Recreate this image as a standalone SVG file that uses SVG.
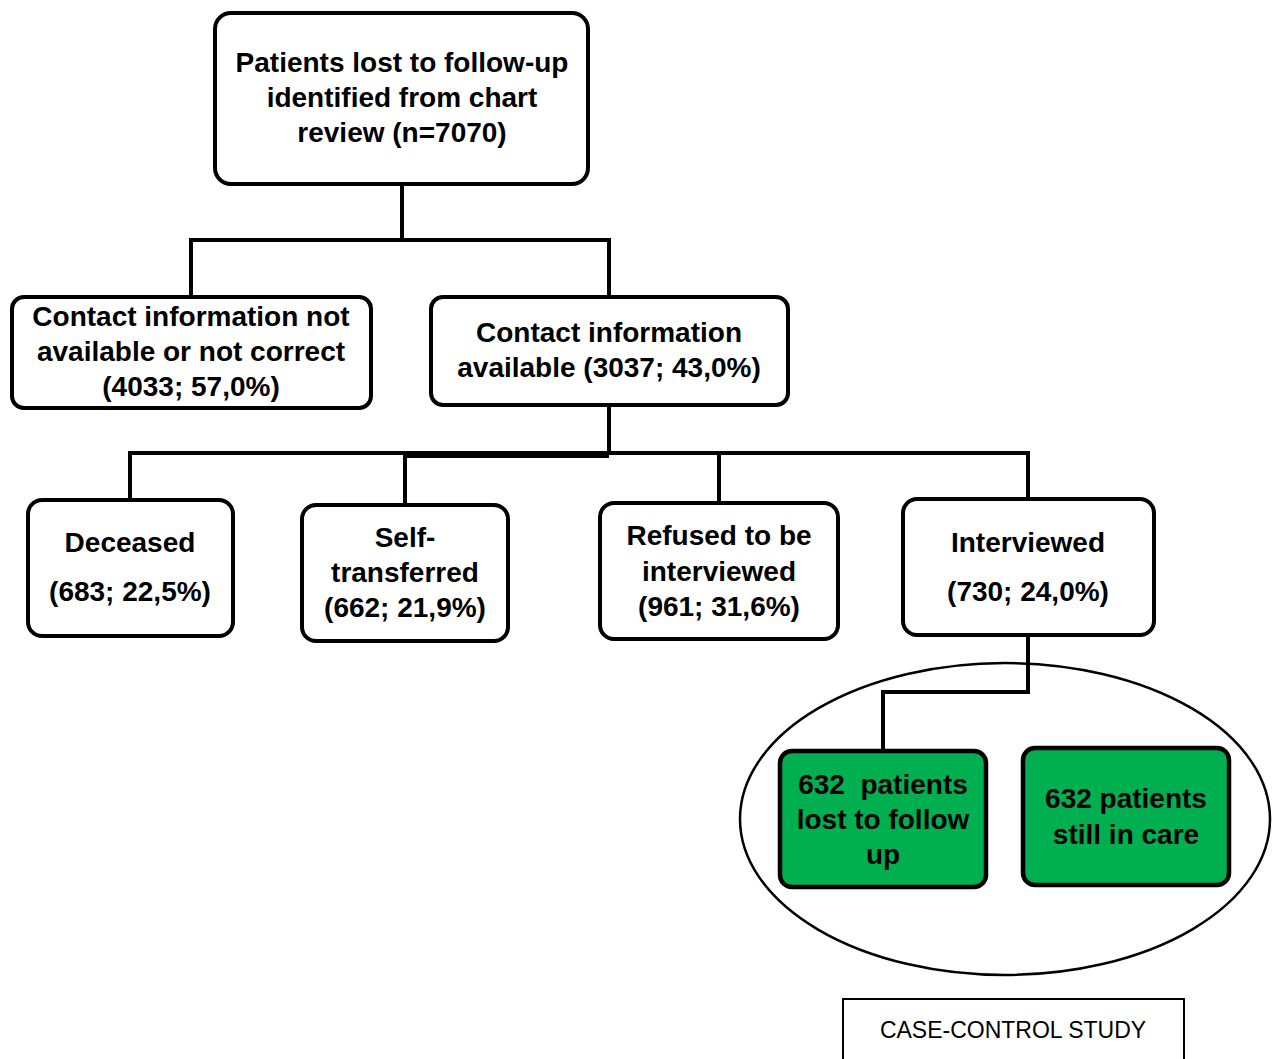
<svg xmlns="http://www.w3.org/2000/svg" width="1273" height="1059" viewBox="0 0 1273 1059">
<style>
.box{fill:#fff;stroke:#000;stroke-width:4}
.green{fill:#00B050;stroke:#000;stroke-width:4.5}
.t{font-family:"Liberation Sans",Arial,sans-serif;font-weight:700;font-size:28px;text-anchor:middle;fill:#000}
.c{fill:none;stroke:#000;stroke-width:4;stroke-linejoin:miter}
.lbl{font-family:"Liberation Sans",Arial,sans-serif;font-size:23px;text-anchor:middle;fill:#000}
</style>
<rect width="1273" height="1059" fill="#fff"/>
<g id="connectors">
<path class="c" d="M402 184 V240 M191 297 V240 H609 V297"/>
<path class="c" d="M609 405 V453 M130 500 V453 H1028 V499 M405 505 V453 M719 503 V453"/>
<path class="c" d="M405 456 H609"/>
<path class="c" d="M1028 635 V692 H883 V751"/>
</g>
<ellipse id="group-ellipse" cx="1005" cy="819" rx="265" ry="156" fill="none" stroke="#000" stroke-width="2.5"/>
<g id="n-root">
<rect class="box" x="215" y="13" width="373" height="171" rx="16"/>
<text class="t" x="402" y="72">Patients lost to follow-up</text>
<text class="t" x="402" y="107">identified from chart</text>
<text class="t" x="402" y="142">review (n=7070)</text>
</g>
<g id="n-notavail">
<rect class="box" x="12" y="297" width="359" height="111" rx="12"/>
<text class="t" x="191" y="326">Contact information not</text>
<text class="t" x="191" y="361">available or not correct</text>
<text class="t" x="191" y="396">(4033; 57,0%)</text>
</g>
<g id="n-avail">
<rect class="box" x="431" y="297" width="357" height="108" rx="12"/>
<text class="t" x="609" y="342">Contact information</text>
<text class="t" x="609" y="377">available (3037; 43,0%)</text>
</g>
<g id="n-deceased">
<rect class="box" x="28" y="500" width="205" height="136" rx="14"/>
<text class="t" x="130" y="552">Deceased</text>
<text class="t" x="130" y="601">(683; 22,5%)</text>
</g>
<g id="n-self">
<rect class="box" x="302" y="505" width="206" height="136" rx="14"/>
<text class="t" x="405" y="547">Self-</text>
<text class="t" x="405" y="582">transferred</text>
<text class="t" x="405" y="617">(662; 21,9%)</text>
</g>
<g id="n-refused">
<rect class="box" x="600" y="503" width="238" height="136" rx="14"/>
<text class="t" x="719" y="545">Refused to be</text>
<text class="t" x="719" y="581">interviewed</text>
<text class="t" x="719" y="616">(961; 31,6%)</text>
</g>
<g id="n-interviewed">
<rect class="box" x="903" y="499" width="251" height="136" rx="14"/>
<text class="t" x="1028" y="552">Interviewed</text>
<text class="t" x="1028" y="601">(730; 24,0%)</text>
</g>
<g id="n-cases">
<rect class="green" x="780" y="751" width="206" height="136" rx="12"/>
<text class="t" x="883" y="794">632&#160; patients</text>
<text class="t" x="883" y="829">lost to follow</text>
<text class="t" x="883" y="864">up</text>
</g>
<g id="n-controls">
<rect class="green" x="1023" y="748" width="206" height="137" rx="12"/>
<text class="t" x="1126" y="808">632 patients</text>
<text class="t" x="1126" y="844">still in care</text>
</g>
<g id="n-casecontrol">
<rect x="843" y="999" width="341" height="70" fill="#fff" stroke="#000" stroke-width="2"/>
<text class="lbl" x="1013" y="1038">CASE-CONTROL STUDY</text>
</g>
</svg>
